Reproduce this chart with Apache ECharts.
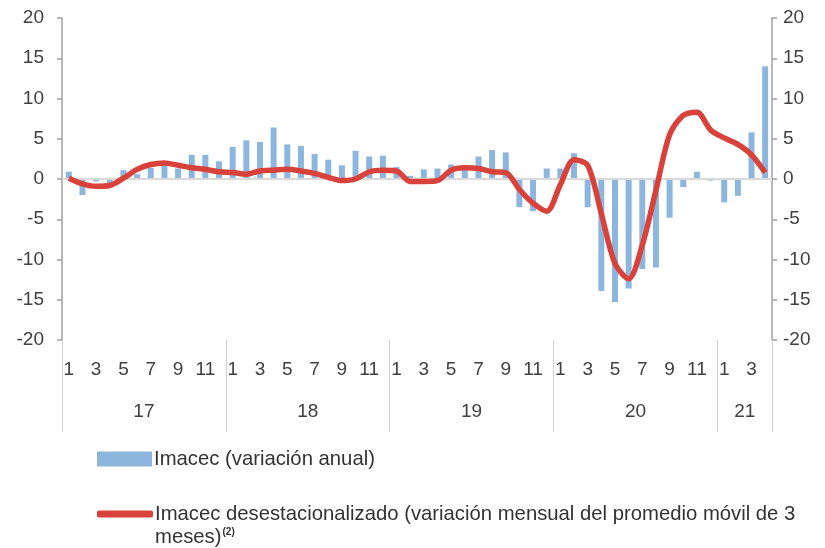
<!DOCTYPE html>
<html>
<head>
<meta charset="utf-8">
<script src="https://cdn.jsdelivr.net/npm/echarts@6/dist/echarts.min.js"></script>
<style>
  html, body { margin: 0; padding: 0; background: #fff; }
  #main { width: 825px; height: 548px; }
</style>
</head>
<body>
<div id="main"></div>
<script>
// meses (ene 2017 - abr 2021)
var months = [1,2,3,4,5,6,7,8,9,10,11,12, 1,2,3,4,5,6,7,8,9,10,11,12,
              1,2,3,4,5,6,7,8,9,10,11,12, 1,2,3,4,5,6,7,8,9,10,11,12, 1,2,3,4];
var yearLabels = ['17', '18', '19', '20', '21'];
var yearMids = [6, 18, 30, 42, 50];
var yearBreaks = [0, 12, 24, 36, 48, 52];

// Imacec (variación anual)
var imacecAnual = [0.9, -2.0, -0.3, -0.5, 1.1, 0.6, 1.4, 1.8, 1.3, 3.0, 3.0, 2.2,
                   4.0, 4.8, 4.6, 6.4, 4.3, 4.1, 3.1, 2.4, 1.7, 3.5, 2.8, 2.9,
                   1.5, 0.4, 1.2, 1.3, 1.8, 1.2, 2.8, 3.6, 3.3, -3.5, -4.0, 1.3,
                   1.3, 3.2, -3.5, -13.9, -15.3, -13.6, -11.2, -11.0, -4.8, -1.0, 0.9, -0.2,
                   -2.9, -2.1, 5.8, 14.0];

// Imacec desestacionalizado (var. mensual prom. móvil 3 meses)
var imacecDesest = [0.1, -0.6, -0.9, -0.8, 0.1, 1.2, 1.8, 2.0, 1.7, 1.4, 1.2, 0.9,
                    0.8, 0.6, 1.0, 1.1, 1.2, 1.0, 0.7, 0.2, -0.2, 0.0, 0.9, 1.1,
                    1.0, -0.3, -0.3, -0.2, 1.1, 1.4, 1.3, 0.9, 0.8, -1.3, -3.0, -4.0,
                    -0.7, 2.4, 1.7, -4.3, -10.5, -12.4, -8.2, -1.4, 5.5, 7.9, 8.3, 6.1,
                    5.1, 4.3, 3.0, 0.8];

var nameBar = 'Imacec (variación anual)';
var nameLine = 'Imacec desestacionalizado (variación mensual del promedio móvil de 3';

var FONT = 'Liberation Sans';
var TXT = '#404040';
var AXIS = '#a0a0a0';

var chart = echarts.init(document.getElementById('main'));

var option = {
  backgroundColor: '#ffffff',
  animation: false,
  textStyle: { fontFamily: FONT },
  grid: { left: 62, right: 53, top: 18, bottom: 208, containLabel: false },
  legend: [{
    data: [nameBar],
    orient: 'vertical',
    left: 97,
    top: 449,
    padding: 0,
    icon: 'rect',
    itemWidth: 55,
    itemHeight: 15,
    itemGap: 0,
    textStyle: { fontFamily: FONT, fontSize: 20.3, color: '#333', padding: [0, 0, 0, -3] }
  }, {
    data: [nameLine],
    orient: 'vertical',
    left: 97,
    top: 504,
    padding: 0,
    icon: 'roundRect',
    itemWidth: 56,
    itemHeight: 7,
    itemGap: 0,
    textStyle: { fontFamily: FONT, fontSize: 20.3, color: '#333', padding: [0, 0, 0, -3] }
  }],
  graphic: [{
    type: 'text',
    left: 155,
    top: 527,
    style: {
      text: 'meses){sup|(2)}',
      fontFamily: FONT,
      fontSize: 20.3,
      fill: '#333',
      rich: { sup: { fontSize: 10, fontWeight: 'bold', fill: '#333', padding: [0, 0, 9, 1] } }
    }
  }],
  xAxis: [{
    type: 'category',
    data: months,
    position: 'bottom',
    axisLine: { show: false, onZero: false },
    axisTick: { show: false },
    axisLabel: {
      interval: function (i) { return months[i] % 2 === 1; },
      color: TXT,
      fontSize: 19,
      margin: 20
    },
    splitLine: { show: false }
  }, {
    type: 'value',
    min: 0,
    max: 52,
    position: 'bottom',
    axisLine: { show: false, onZero: false },
    splitLine: { show: false },
    axisTick: {
      show: true,
      customValues: yearBreaks,
      length: 92,
      lineStyle: { color: '#d0d0d0', width: 1 }
    },
    axisLabel: {
      customValues: yearMids,
      formatter: function (v) { return yearLabels[yearMids.indexOf(v)]; },
      color: TXT,
      fontSize: 19,
      margin: 62
    }
  }],
  yAxis: [{
    type: 'value',
    min: -20,
    max: 20,
    interval: 5,
    position: 'left',
    axisLine: { show: true, lineStyle: { color: AXIS, width: 1.5 } },
    axisTick: { show: true, length: 5, lineStyle: { color: AXIS, width: 1.5 } },
    axisLabel: { color: TXT, fontSize: 19, margin: 18 },
    splitLine: { show: false }
  }, {
    type: 'value',
    min: -20,
    max: 20,
    interval: 5,
    position: 'right',
    axisLine: { show: true, lineStyle: { color: AXIS, width: 1.5 } },
    axisTick: { show: true, length: 5, lineStyle: { color: AXIS, width: 1.5 } },
    axisLabel: { color: TXT, fontSize: 19, margin: 11 },
    splitLine: { show: false }
  }],
  series: [{
    name: nameBar,
    type: 'bar',
    data: imacecAnual,
    barWidth: 6,
    itemStyle: { color: '#8db6df' },
    markLine: {
      silent: true,
      symbol: 'none',
      label: { show: false },
      lineStyle: { color: '#d9d9d9', width: 2, type: 'solid' },
      data: [{ yAxis: 0 }]
    }
  }, {
    name: nameLine,
    type: 'line',
    data: imacecDesest,
    smooth: 0.3,
    symbol: 'none',
    z: 5,
    lineStyle: { color: '#d9423b', width: 5.5 },
    itemStyle: { color: '#d9423b' }
  }]
};

chart.setOption(option);
</script>
</body>
</html>
